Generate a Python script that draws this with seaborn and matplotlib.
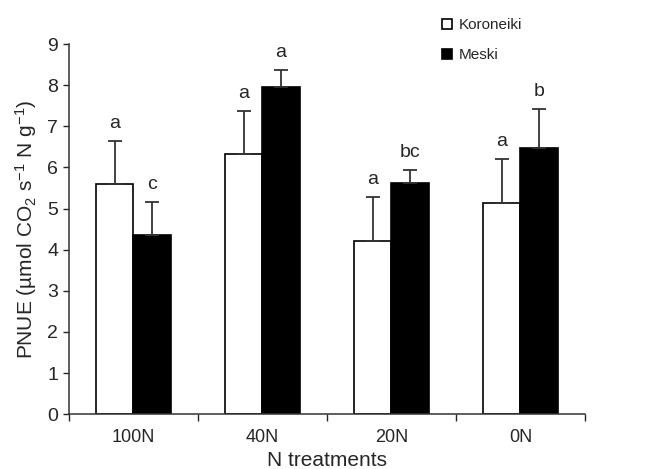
import numpy as np
import pandas as pd
import matplotlib
matplotlib.use("Agg")
import matplotlib.pyplot as plt
import seaborn as sns
from matplotlib.patches import Patch

treatments = ["100N", "40N", "20N", "0N"]
cultivars = ["Koroneiki", "Meski"]
koroneiki = [5.6, 6.33, 4.2, 5.13]
meski = [4.35, 7.96, 5.62, 6.47]
koroneiki_err = [1.04, 1.04, 1.08, 1.07]
meski_err = [0.81, 0.41, 0.32, 0.95]
koroneiki_letters = ["a", "a", "a", "a"]
meski_letters = ["c", "a", "bc", "b"]

df = pd.DataFrame({
    "treatment": treatments * 2,
    "cultivar": [cultivars[0]] * 4 + [cultivars[1]] * 4,
    "pnue": koroneiki + meski,
})

sns.set_style("ticks")
plt.rcParams["font.family"] = ["Liberation Sans", "DejaVu Sans"]
plt.rcParams["mathtext.fontset"] = "custom"
plt.rcParams["mathtext.rm"] = "Liberation Sans"
plt.rcParams["mathtext.it"] = "Liberation Sans:italic"
plt.rcParams["mathtext.default"] = "rm"

fig = plt.figure(figsize=(6.61, 4.69), dpi=100)
ax = fig.add_axes([0.104, 0.117, 0.781, 0.789])

sns.barplot(data=df, x="treatment", y="pnue", hue="cultivar",
            order=treatments, hue_order=cultivars,
            palette=["white", "black"], edgecolor="black", linewidth=1.2,
            width=0.58, errorbar=None, ax=ax, legend=False)

# upward-only error bars and significance letters
errs = [koroneiki_err, meski_err]
letters = [koroneiki_letters, meski_letters]
vals = [koroneiki, meski]
bar_conts = list(ax.containers)
for k, cont in enumerate(bar_conts):
    for i, bar in enumerate(cont):
        xc = bar.get_x() + bar.get_width() / 2
        top = vals[k][i]
        e = errs[k][i]
        ax.errorbar(xc, top, yerr=[[0], [e]], fmt="none", ecolor="#333333",
                    elinewidth=1.3, capsize=5, capthick=1.3)
        ax.text(xc, top + e + 0.22, letters[k][i], ha="center", va="bottom",
                fontsize=14)

ax.set_ylim(0, 9)
ax.set_yticks(range(0, 10))
ax.set_xlim(-0.5, 3.5)
ax.set_xticks([-0.5, 0.5, 1.5, 2.5, 3.5], minor=False)
ax.set_xticklabels([])
ax.set_xticks(range(4), minor=True)
ax.set_xticklabels(treatments, minor=True)
ax.tick_params(axis="x", which="minor", length=0, labelsize=13, pad=11)
ax.tick_params(axis="x", which="major", length=5, width=1, direction="out")
ax.tick_params(axis="y", length=4, width=1, labelsize=14, direction="out")
for s in ["left", "bottom"]:
    ax.spines[s].set_linewidth(1.1)
    ax.spines[s].set_color("#333333")
sns.despine(ax=ax)

ax.set_xlabel("N treatments", fontsize=15, labelpad=3)
ax.set_ylabel("PNUE (µmol CO$_2$ s$^{-1}$ N g$^{-1}$)", fontsize=15, labelpad=6)

handles = [Patch(facecolor="white", edgecolor="black", linewidth=1.2),
           Patch(facecolor="black", edgecolor="black", linewidth=1.2)]
fig.legend(handles, cultivars, loc="upper left", bbox_to_anchor=(0.648, 0.99),
           frameon=False, fontsize=11, handlelength=0.65, handleheight=0.65,
           handletextpad=0.45, labelspacing=1.05)

fig.savefig("out.png", dpi=100)
